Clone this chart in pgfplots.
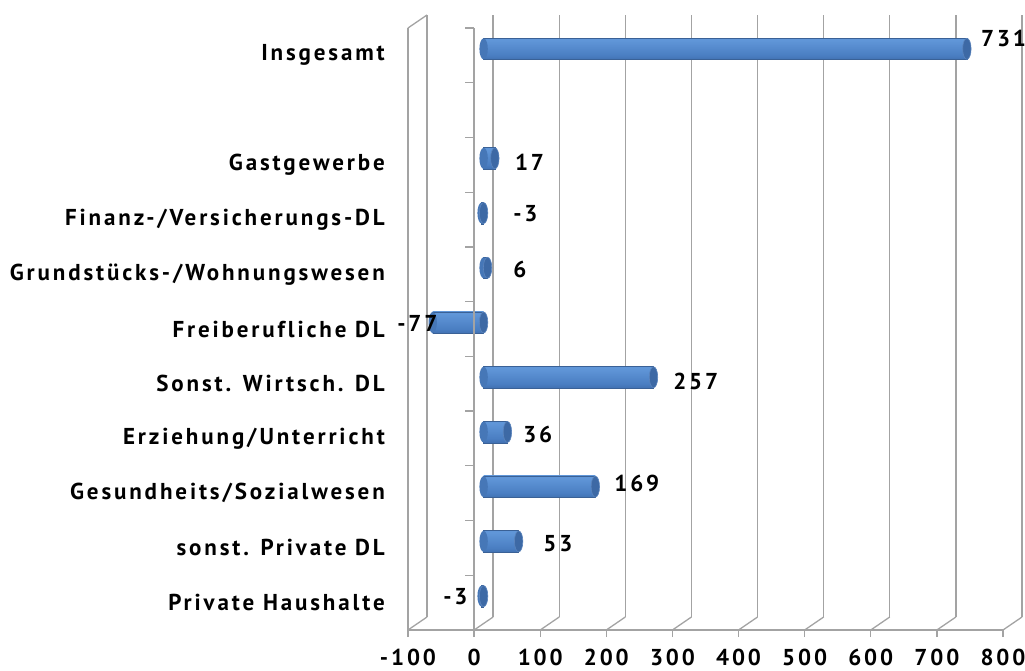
\documentclass[border=0pt]{standalone}
\usepackage{pgfplots}
\usepackage{pgfplotstable}
\pgfplotsset{compat=1.18}
\usepackage{fontspec}
\setmainfont{PT Sans}[LetterSpace=12.5, Ligatures=NoCommon]
\definecolor{bartop}{HTML}{6096D8}
\definecolor{barmid}{HTML}{4A7EC2}
\definecolor{barbot}{HTML}{2B528A}
\definecolor{baredge}{HTML}{3A6196}
\definecolor{capfill}{HTML}{3D69A5}
\definecolor{capedge}{HTML}{5B84BC}
\definecolor{leftfill}{HTML}{4677B7}
\definecolor{gridc}{HTML}{A3A3A3}
\pgfdeclareverticalshading{cyl}{100bp}{color(0bp)=(barbot); color(35bp)=(barmid); color(70bp)=(bartop); color(88bp)=(bartop); color(100bp)=(barmid)}
\pgfdeclareplotmark{capR}{%
  \pgfpathellipse{\pgfpointorigin}{\pgfpoint{4.2pt}{0pt}}{\pgfpoint{0pt}{10.5pt}}%
  \pgfusepathqfillstroke}
\pgfdeclareplotmark{capL}{%
  \pgfpathellipse{\pgfpointorigin}{\pgfpoint{4.2pt}{0pt}}{\pgfpoint{0pt}{10.5pt}}%
  \pgfusepathqfill}
\pgfplotstableread{
s    v    cap  base dx    dy   lab
10.5 731  731  0    14    10   731
8.5  17   17   0    20    -4   17
7.5  -3   0    -3   31.5  -1   -3
6.5  6    6    0    25.5  -2   6
5.5  -77  0    -77  -35.6 -1   -77
4.5  257  257  0    19.6  -4   257
3.5  36   36   0    15.7  -2   36
2.5  169  169  0    18.8  3    169
1.5  53   53   0    24.5  -2   53
0.5  -3   0    -3   -38.5 0    -3
}\data
\newcommand{\lblfont}{\fontsize{23}{27}\selectfont\bfseries}
\begin{document}
\begin{tikzpicture}[x=1pt,y=1pt]
\path[use as bounding box] (0,0) rectangle (1025,670);
% back wall
\begin{axis}[scale only axis, width=595pt, height=602pt,
  at={(427pt,53pt)}, anchor=south west,
  xmin=-100, xmax=800, ymin=0, ymax=11,
  axis line style={draw=none}, tick style={draw=none},
  xtick={-100,0,...,800}, xticklabels={}, ytick=\empty,
  xmajorgrids, grid style={gridc, line width=1.3pt}]
\end{axis}
% bars (middle depth)
\begin{axis}[scale only axis, width=595pt, height=602pt,
  at={(417.5pt,46.5pt)}, anchor=south west,
  xmin=-100, xmax=800, ymin=0, ymax=11, hide axis, clip=false]
\addplot[only marks, mark=capL, mark options={leftfill}] table[x=base,y=s] {\data};
\pgfplotsinvokeforeach{0.5,1.5,2.5,3.5,4.5,5.5,6.5,7.5,8.5,10.5}{
\addplot[xbar, bar width=21.5pt, draw=baredge, line width=0.4pt, shading=cyl,
  y filter/.expression={abs(y-#1)<0.1 ? y : nan}]
  table[x=v,y=s] {\data};
}
\addplot[only marks, mark=capR, mark options={fill=capfill, draw=capedge, line width=0.6pt}]
  table[x=cap,y=s] {\data};
\addplot[draw=none, mark=none, nodes near coords, point meta=explicit symbolic,
  visualization depends on={\thisrow{dx}\as\dx},
  visualization depends on={\thisrow{dy}\as\dy},
  every node near coord/.append style={anchor=west, inner sep=0pt,
    xshift=\dx pt, yshift=\dy pt, font=\lblfont, text=black}]
  table[x=v,y=s,meta=lab] {\data};
\end{axis}
% front plane
\begin{axis}[scale only axis, width=595pt, height=602pt,
  at={(408pt,40pt)}, anchor=south west,
  xmin=-100, xmax=800, ymin=0, ymax=11, clip=false,
  axis x line*=bottom, axis y line*=left,
  axis line style={gridc, line width=1.3pt, -},
  tick align=outside, major tick length=7pt,
  xtick={-100,0,...,800},
  xticklabels={-100,0,100,200,300,400,500,600,700,800},
  xtick style={gridc, line width=1.3pt},
  ytick={0.5,1.5,2.5,3.5,4.5,5.5,6.5,7.5,8.5,10.5},
  yticklabels={Private Haushalte,sonst. Private DL,Gesundheits/Sozialwesen,Erziehung/Unterricht,Sonst. Wirtsch. DL,Freiberufliche DL,Grundstücks-/Wohnungswesen,Finanz-/Versicherungs-DL,Gastgewerbe,Insgesamt},
  ytick style={draw=none},
  xticklabel style={inner sep=0pt, yshift=-12pt, font=\lblfont},
  yticklabel style={inner sep=0pt, xshift=-16pt, font=\lblfont, anchor=east}]
\pgfplotsinvokeforeach{-100,0,100,200,300,400,500,600,700,800}{
  \draw[gridc, line width=1.3pt] (axis cs:#1,0) -- ++(19pt,13pt);
}
\draw[gridc, line width=1.3pt] (axis cs:-100,11) -- ++(19pt,13pt);
\draw[gridc, line width=1.3pt] (axis cs:0,0) -- (axis cs:0,11);
\pgfplotsinvokeforeach{1,2,...,11}{
  \draw[gridc, line width=1.3pt] (axis cs:0,#1) -- ++(-9pt,0pt);
}
\end{axis}
\end{tikzpicture}
\end{document}
